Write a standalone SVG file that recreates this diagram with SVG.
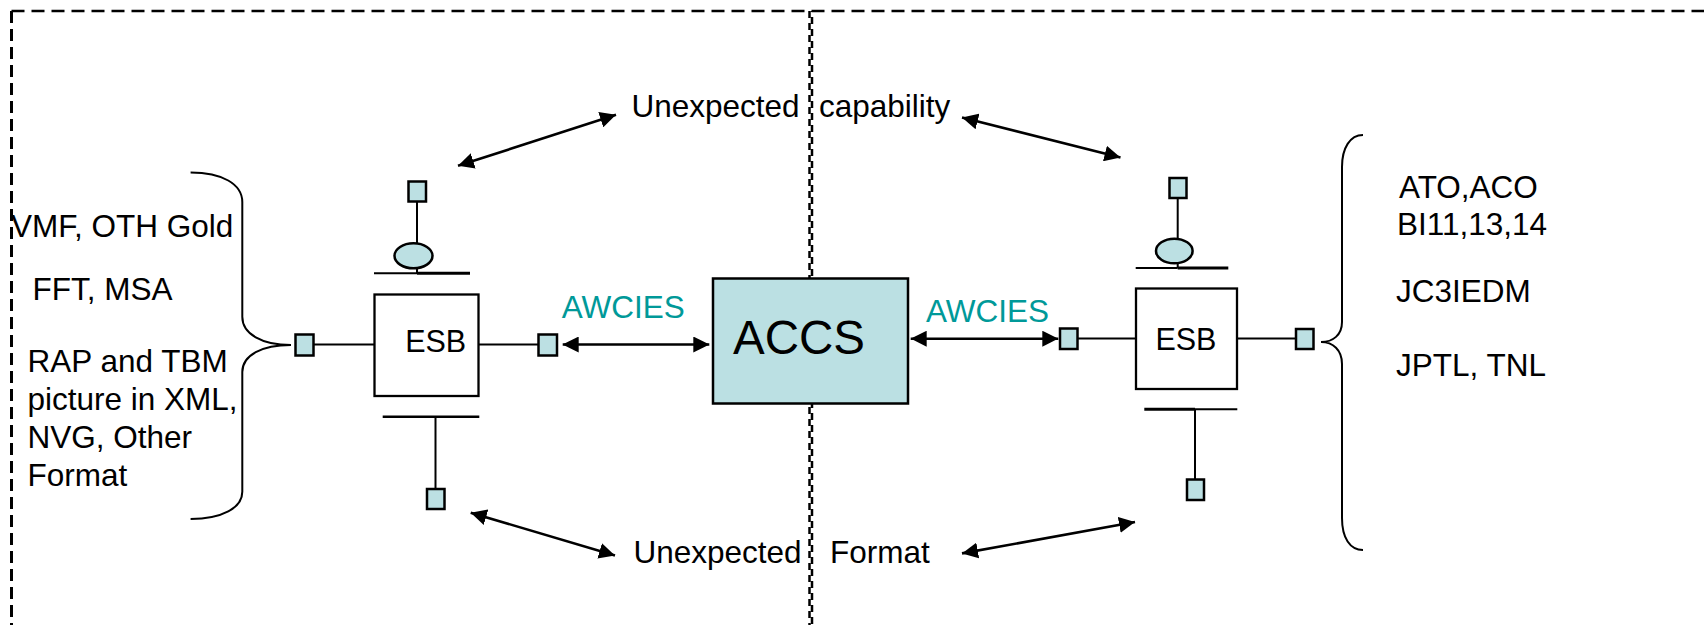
<svg xmlns="http://www.w3.org/2000/svg" width="1704" height="625" viewBox="0 0 1704 625">
<defs>
<style>
text{font-family:"Liberation Sans",Arial,sans-serif;fill:#000;}
.t{font-size:31.5px;}
.esb{font-size:30.5px;}
.aw{font-size:31.5px;fill:#009999;}
.port{fill:#BCE0E3;stroke:#000;stroke-width:2.5;}
.box{fill:#fff;stroke:#000;stroke-width:2.3;}
.ln{stroke:#000;stroke-width:2;fill:none;}
.arr{stroke:#000;stroke-width:2.6;fill:none;marker-start:url(#ah);marker-end:url(#ah);}
.brace{stroke:#000;stroke-width:2;fill:none;}
</style>
<marker id="ah" viewBox="0 0 16 16" refX="16" refY="8" markerWidth="16" markerHeight="16" markerUnits="userSpaceOnUse" orient="auto-start-reverse">
<path d="M0,0 L16,8 L0,16 z" fill="#000"/>
</marker>
</defs>
<rect width="1704" height="625" fill="#fff"/>
<g id="frame">
<line x1="11.5" y1="11" x2="1704" y2="11" stroke="#000" stroke-width="2.6" stroke-dasharray="13 7"/>
<line x1="11.5" y1="11" x2="11.5" y2="625" stroke="#000" stroke-width="3" stroke-dasharray="12 6"/>
<line x1="809.5" y1="11" x2="809.5" y2="625" stroke="#000" stroke-width="2.5" stroke-dasharray="7 5"/>
<line x1="812" y1="11" x2="812" y2="625" stroke="#000" stroke-width="2.5" stroke-dasharray="7 5" stroke-dashoffset="6"/>
</g>
<g id="connectors">
<line class="arr" x1="458" y1="165.8" x2="616" y2="114.8"/>
<line class="arr" x1="962" y1="117.6" x2="1120.5" y2="157.5"/>
<line class="arr" x1="470.7" y1="512.7" x2="615" y2="555.4"/>
<line class="arr" x1="962" y1="553.4" x2="1135" y2="522"/>
<line class="arr" x1="562.7" y1="344.5" x2="709.3" y2="344.5"/>
<line class="arr" x1="910.7" y1="338.7" x2="1058.3" y2="338.7"/>
<line class="ln" x1="313.8" y1="344.5" x2="374" y2="344.5"/>
<line class="ln" x1="478.5" y1="344.5" x2="538.5" y2="344.5"/>
<line class="ln" x1="417" y1="201.5" x2="417" y2="243.5"/>
<line class="ln" x1="417" y1="268" x2="417" y2="273.3"/>
<line class="ln" x1="435.5" y1="416.7" x2="435.5" y2="489"/>
<line class="ln" x1="1077.5" y1="338.5" x2="1136" y2="338.5"/>
<line class="ln" x1="1237" y1="338.5" x2="1296" y2="338.5"/>
<line class="ln" x1="1177.7" y1="198" x2="1177.7" y2="238.8"/>
<line class="ln" x1="1177.7" y1="263.2" x2="1177.7" y2="268"/>
<line class="ln" x1="1195" y1="409.3" x2="1195" y2="479.5"/>
</g>
<g id="left-sources">
<path class="brace" d="M190.6,172.5 C222,172.5 242.3,184 242.3,202 L242.3,316.7 C242.3,334 262,345 291,345 C262,345 242.3,355 242.3,372 L242.3,491.7 C242.3,508 222,519 190.6,519"/>
<text class="t" x="11" y="236.5">VMF, OTH Gold</text>
<text class="t" x="32.6" y="300">FFT, MSA</text>
<text class="t" x="27.5" y="371.5">RAP and TBM</text>
<text class="t" x="27.5" y="410">picture in XML,</text>
<text class="t" x="27.5" y="447.7">NVG, Other</text>
<text class="t" x="27.5" y="486">Format</text>
</g>
<g id="esb-left">
<rect class="box" x="374.5" y="294.5" width="104" height="101.5"/>
<text class="esb" x="405.2" y="351.7">ESB</text>
<line class="ln" x1="374" y1="273.3" x2="417" y2="273.3"/>
<line x1="417" y1="273.3" x2="470" y2="273.3" stroke="#000" stroke-width="3"/>
<line x1="382.7" y1="416.7" x2="479.3" y2="416.7" stroke="#000" stroke-width="2.5"/>
<ellipse class="port" cx="413.5" cy="255.8" rx="19" ry="12.5"/>
<rect class="port" x="408.5" y="181.5" width="17.5" height="20"/>
<rect class="port" x="295.5" y="334.5" width="18" height="21"/>
<rect class="port" x="538.5" y="334.5" width="18.5" height="21"/>
<rect class="port" x="427" y="489" width="17.5" height="20"/>
</g>
<g id="accs">
<rect x="713" y="278.5" width="195" height="125" fill="#BBE0E3" stroke="#000" stroke-width="2.5"/>
<text x="733" y="354.3" style="font-size:47.5px">ACCS</text>
</g>
<g id="esb-right">
<rect class="box" x="1136" y="288.5" width="101" height="100.5"/>
<text class="esb" x="1155.4" y="350">ESB</text>
<line class="ln" x1="1135.7" y1="268" x2="1177.7" y2="268"/>
<line x1="1177.7" y1="268" x2="1228.3" y2="268" stroke="#000" stroke-width="3"/>
<line x1="1144.3" y1="409.3" x2="1195" y2="409.3" stroke="#000" stroke-width="3"/>
<line class="ln" x1="1195" y1="409.3" x2="1237.3" y2="409.3"/>
<ellipse class="port" cx="1174.3" cy="251" rx="18.3" ry="12.3"/>
<rect class="port" x="1169.5" y="178" width="17" height="20"/>
<rect class="port" x="1060" y="328.5" width="17.5" height="20.5"/>
<rect class="port" x="1296" y="329" width="17.5" height="20"/>
<rect class="port" x="1187" y="479.5" width="17" height="20.5"/>
</g>
<g id="right-sources">
<path class="brace" d="M1363,135 C1350,135 1342,148 1342,167 L1342,322 C1342,335 1333,342 1321,342 C1333,342 1342,350 1342,364 L1342,518 C1342,538 1350,550 1363,550"/>
<text class="t" x="1399" y="197.8">ATO,ACO</text>
<text class="t" x="1397" y="235.2">BI11,13,14</text>
<text class="t" x="1396" y="301.8">JC3IEDM</text>
<text class="t" x="1396" y="375.6">JPTL, TNL</text>
</g>
<g id="labels">
<text class="aw" x="561.7" y="318.3">AWCIES</text>
<text class="aw" x="926" y="321.7">AWCIES</text>
<text class="t" x="631.5" y="117.3">Unexpected <tspan x="819">capability</tspan></text>
<text class="t" x="633.4" y="563.4">Unexpected <tspan x="830">Format</tspan></text>
</g>
</svg>
